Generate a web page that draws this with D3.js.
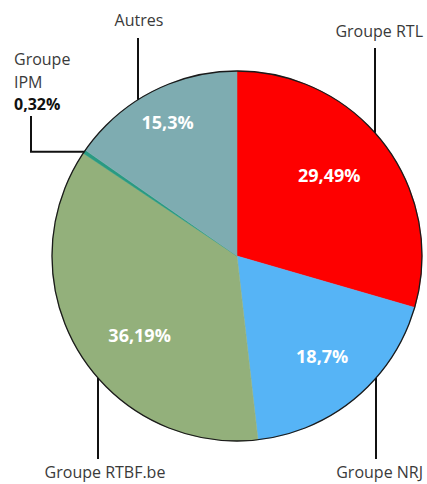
<!DOCTYPE html>
<html>
<head>
<meta charset="utf-8">
<script src="https://cdn.jsdelivr.net/npm/d3@7"></script>
<style>
body { margin: 0; background: #fff; }
svg text { font-family: 'Open Sans', sans-serif; }
.lbl { font-size: 16px; fill: #3a3a3a; }
.pct { font-size: 18px; font-weight: bold; fill: #fff; }
.lead { stroke: #111; stroke-width: 2; fill: none; }
</style>
</head>
<body>
<svg id="chart" width="427" height="484"></svg>
<script>
// parts d'audience, dans l'ordre horaire depuis le haut
var groupes = ["Groupe RTL", "Groupe NRJ", "Groupe RTBF.be", "Groupe IPM", "Autres"];
var parts = [29.49, 18.7, 36.19, 0.32, 15.3];
var partLabels = ["29,49%", "18,7%", "36,19%", "0,32%", "15,3%"];
var couleurs = ["#fe0000", "#56b4f6", "#93b07b", "#2a9a82", "#7eacb1"];

var svg = d3.select("#chart");
var cx = 237, cy = 256, r = 185;

var data = groupes.map(function(g, i) {
	return { name: g, value: parts[i], label: partLabels[i], color: couleurs[i] };
});

var pie = d3.pie().sort(null).value(function(d) { return d.value; });
var arcs = pie(data);
var arc = d3.arc().innerRadius(0).outerRadius(r);

var g = svg.append("g").attr("transform", "translate(" + cx + "," + cy + ")");

g.selectAll("path.slice")
	.data(arcs)
	.enter().append("path")
	.attr("class", "slice")
	.attr("d", arc)
	.attr("fill", function(d) { return d.data.color; })
	.attr("stroke", function(d) { return d.data.color; })
	.attr("stroke-width", 0.5);

g.append("circle").attr("r", r).attr("fill", "none").attr("stroke", "#1a1a1a").attr("stroke-width", 1.3);

// pourcentages dans les parts (pas pour IPM, trop petite)
// rayon et petit decalage d'angle (degres) par part
var labelPlace = {
	"Groupe RTL": [122, -4],
	"Groupe NRJ": [132, 0],
	"Groupe RTBF.be": [126, -8],
	"Autres": [150, 0]
};
g.selectAll("text.pct")
	.data(arcs.filter(function(d) { return labelPlace[d.data.name]; }))
	.enter().append("text")
	.attr("class", "pct")
	.attr("text-anchor", "middle")
	.attr("dy", "0.35em")
	.attr("transform", function(d) {
		var p = labelPlace[d.data.name];
		var a = (d.startAngle + d.endAngle) / 2 + p[1] * Math.PI / 180;
		return "translate(" + (p[0] * Math.sin(a)) + "," + (-p[0] * Math.cos(a)) + ")";
	})
	.text(function(d) { return d.data.label; });

// point sur le bord du cercle pour une abscisse donnee
function edgeY(x, top) {
	var dx = x - cx;
	var dy = Math.sqrt(r * r - dx * dx);
	return top ? cy - dy : cy + dy;
}

// lignes de rappel
var leaders = svg.append("g");
leaders.append("line").attr("class", "lead").attr("x1", 375).attr("x2", 375).attr("y1", 48).attr("y2", edgeY(375, true));
leaders.append("line").attr("class", "lead").attr("x1", 376).attr("x2", 376).attr("y1", edgeY(376, false)).attr("y2", 459);
leaders.append("line").attr("class", "lead").attr("x1", 98).attr("x2", 98).attr("y1", edgeY(98, false)).attr("y2", 459);
leaders.append("line").attr("class", "lead").attr("x1", 138).attr("x2", 138).attr("y1", 38).attr("y2", edgeY(138, true));

// IPM: coude vers sa part
var ipm = arcs[3];
var aIpm = (ipm.startAngle + ipm.endAngle) / 2;
var px = cx + r * Math.sin(aIpm), py = cy - r * Math.cos(aIpm);
leaders.append("path").attr("class", "lead")
	.attr("d", "M31,116 L31," + py + " L" + px + "," + py);

// textes
svg.append("text").attr("class", "lbl").attr("x", 423).attr("y", 37).attr("text-anchor", "end").text("Groupe RTL");
svg.append("text").attr("class", "lbl").attr("x", 139).attr("y", 26).attr("text-anchor", "middle").text("Autres");
svg.append("text").attr("class", "lbl").attr("x", 105).attr("y", 478).attr("text-anchor", "middle").text("Groupe RTBF.be");
svg.append("text").attr("class", "lbl").attr("x", 423).attr("y", 478).attr("text-anchor", "end").text("Groupe NRJ");

var ipmText = svg.append("text").attr("class", "lbl").attr("x", 14).attr("y", 65);
ipmText.append("tspan").attr("x", 14).text("Groupe");
ipmText.append("tspan").attr("x", 14).attr("dy", 23).text("IPM");
ipmText.append("tspan").attr("x", 14).attr("dy", 22).attr("font-weight", "bold").attr("fill", "#111").text(partLabels[3]);
</script>
</body>
</html>
